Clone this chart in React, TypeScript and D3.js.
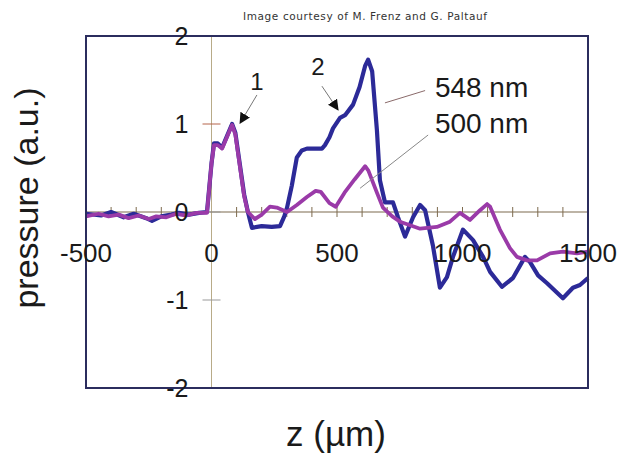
import * as d3 from 'd3';

// z positions (µm) and pressure (a.u.)
const zBlue = [
  -500, -440, -400, -350, -310, -260, -237, -200, -160, -130, -90, -50, -18, 0, 10, 25, 42, 60, 82,
  95, 110, 130, 145, 161, 200, 240, 273, 290, 301, 320, 340, 360, 380, 424, 440, 452, 470, 484, 512,
  532, 564, 590, 612, 624, 640, 659, 671, 691, 723, 743, 771, 803, 831, 851, 882, 910, 938, 962,
  1002, 1042, 1082, 1110, 1157, 1201, 1249, 1269, 1301, 1337, 1400, 1440, 1468, 1500,
];
const vBlue = [
  -0.02, -0.04, 0.0, -0.06, -0.02, -0.07, -0.1, -0.05, -0.03, -0.01, -0.03, -0.01, 0.0, 0.55, 0.78,
  0.78, 0.73, 0.85, 1.0, 0.9, 0.6, 0.2, 0.0, -0.18, -0.16, -0.17, -0.16, -0.05, 0.05, 0.3, 0.62, 0.7,
  0.72, 0.72, 0.72, 0.76, 0.85, 0.95, 1.07, 1.1, 1.22, 1.42, 1.66, 1.73, 1.6, 0.93, 0.36, 0.11, 0.11,
  -0.06, -0.28, -0.06, 0.08, 0.02, -0.38, -0.86, -0.74, -0.51, -0.2, -0.32, -0.51, -0.68, -0.85,
  -0.75, -0.51, -0.57, -0.72, -0.81, -0.98, -0.86, -0.83, -0.75,
];

const zPurple = [
  -500, -450, -410, -370, -330, -290, -250, -220, -180, -140, -100, -60, -18, 0, 10, 25, 42, 60, 82,
  95, 110, 130, 145, 173, 200, 233, 260, 285, 301, 340, 380, 415, 435, 470, 495, 530, 570, 612, 625,
  659, 683, 720, 751, 791, 831, 898, 950, 990, 1030, 1070, 1098, 1110, 1149, 1189, 1217, 1257, 1297,
  1349, 1400, 1456, 1500,
];
const vPurple = [
  -0.05, -0.02, -0.05, -0.03, -0.07, -0.04, -0.08, -0.05, -0.06, -0.02, -0.04, -0.01, -0.01, 0.55,
  0.76, 0.76, 0.72, 0.84, 0.99, 0.88, 0.58, 0.18, 0.0, -0.08, -0.03, 0.06, 0.05, 0.02, 0.0, 0.08, 0.17,
  0.24, 0.23, 0.1, 0.06, 0.22, 0.37, 0.52, 0.47, 0.22, 0.05, -0.05, -0.11, -0.15, -0.19, -0.17, -0.11,
  -0.01, -0.09, 0.02, 0.09, 0.06, -0.2, -0.41, -0.51, -0.55, -0.55, -0.47, -0.45, -0.47, -0.45,
];

const xTickLabels = [-500, 0, 500, 1000, 1500];
const yTickLabels = [-2, -1, 0, 1, 2];
const xMinorTicks = d3.range(-400, 1500, 100).filter((t) => t !== 0);

const W = 621;
const H = 453;
const BOX = { left: 86, right: 588, top: 36, bottom: 388 };
const BLUE = '#2c2a98';
const PURPLE = '#9a3aa8';
const FONT = '"Liberation Sans", Arial, sans-serif';

export default function App() {
  const x = d3.scaleLinear().domain([-500, 1500]).range([BOX.left, BOX.right]);
  const y = d3.scaleLinear().domain([-2, 2]).range([BOX.bottom, BOX.top]);

  const line = d3
    .line<[number, number]>()
    .x((d) => x(d[0]))
    .y((d) => y(d[1]));

  const blue = zBlue.map((z, i) => [z, vBlue[i]] as [number, number]);
  const purple = zPurple.map((z, i) => [z, vPurple[i]] as [number, number]);

  return (
    <svg
      width={W}
      height={H}
      style={{ position: 'absolute', left: 0, top: 0, background: '#fff' }}
      fontFamily={FONT}
    >
      <defs>
        <marker id="tri" viewBox="0 0 10 10" refX="9" refY="5" markerWidth="11" markerHeight="11"
          markerUnits="userSpaceOnUse" orient="auto">
          <path d="M0,0 L10,5 L0,10 z" fill="#111" />
        </marker>
      </defs>

      <text x={243} y={20} fontSize={10.5} fill="#333" textLength={244} lengthAdjust="spacing"
        fontFamily='"DejaVu Sans", Verdana, sans-serif'>
        Image courtesy of M. Frenz and G. Paltauf
      </text>

      {/* axes through the origin */}
      <line x1={x(0)} x2={x(0)} y1={BOX.top} y2={BOX.bottom} stroke="#b8ab88" strokeWidth={1} />
      <line x1={BOX.left} x2={BOX.right} y1={y(0)} y2={y(0)} stroke="#7d6a4e" strokeWidth={1.2} />
      {xMinorTicks.map((t) => (
        <line key={t} x1={x(t)} x2={x(t)} y1={y(0) - 5} y2={y(0) + 5} stroke="#7d6a4e" strokeWidth={1} />
      ))}
      {yTickLabels.map((t) => (
        <line key={t} x1={x(0) - 9} x2={x(0) + 9} y1={y(t)} y2={y(t)}
          stroke={t > 0 ? '#b5654a' : '#999'} strokeWidth={1} />
      ))}

      <path d={line(blue) ?? ''} fill="none" stroke={BLUE} strokeWidth={4.2} strokeLinejoin="round" />
      <path d={line(purple) ?? ''} fill="none" stroke={PURPLE} strokeWidth={3.8} strokeLinejoin="round" />

      {/* frame */}
      <rect x={BOX.left} y={BOX.top} width={BOX.right - BOX.left} height={BOX.bottom - BOX.top}
        fill="none" stroke="#2b2d5e" strokeWidth={2} />

      {yTickLabels.map((t) => (
        <text key={t} x={x(0) - 23} y={y(t)} dy="0.36em" textAnchor="end" fontSize={25} fill="#1a1a1a">
          {t}
        </text>
      ))}
      {xTickLabels.map((t) => (
        <text key={t} x={x(t)} y={y(0) + 50} textAnchor="middle" fontSize={26} fill="#1a1a1a">
          {t}
        </text>
      ))}

      {/* annotations */}
      <text x={x(181)} y={y(1.49)} dy="0.36em" textAnchor="middle" fontSize={24} fill="#1a1a1a">1</text>
      <line x1={x(181)} y1={y(1.33)} x2={x(114)} y2={y(1.01)} stroke="#777" strokeWidth={1}
        markerEnd="url(#tri)" />
      <text x={x(424)} y={y(1.66)} dy="0.36em" textAnchor="middle" fontSize={24} fill="#1a1a1a">2</text>
      <line x1={x(440)} y1={y(1.43)} x2={x(504)} y2={y(1.16)} stroke="#777" strokeWidth={1}
        markerEnd="url(#tri)" />

      <line x1={x(691)} y1={y(1.24)} x2={x(851)} y2={y(1.38)} stroke="#8a6a6a" strokeWidth={1} />
      <text x={x(890)} y={y(1.31)} fontSize={28} fill="#1a1a1a">548 nm</text>
      <line x1={x(592)} y1={y(0.27)} x2={x(863)} y2={y(0.875)} stroke="#888" strokeWidth={1} />
      <text x={x(890)} y={y(0.9)} fontSize={28} fill="#1a1a1a">500 nm</text>

      <text transform="translate(38,198) rotate(-90)" textAnchor="middle" fontSize={34} fill="#1a1a1a">
        pressure (a.u.)
      </text>
      <text x={336} y={446} textAnchor="middle" fontSize={35} fill="#1a1a1a">z (µm)</text>
    </svg>
  );
}
